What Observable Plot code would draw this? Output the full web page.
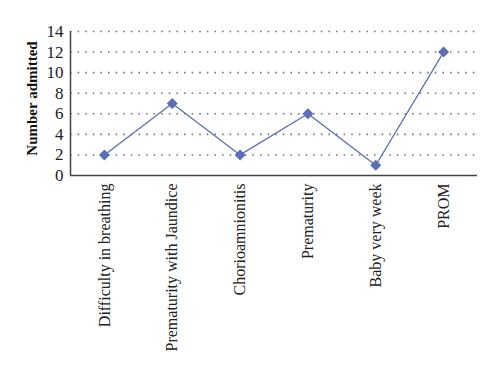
<!DOCTYPE html>
<html><head><meta charset="utf-8">
<script src="https://cdn.jsdelivr.net/npm/d3@7"></script>
<script src="https://cdn.jsdelivr.net/npm/@observablehq/plot@0.6"></script>
<style>body{margin:0;background:#fff}</style></head>
<body><div id="chart"></div>
<script>
const categories = ["Difficulty in breathing","Prematurity with Jaundice","Chorioamnionitis","Prematurity","Baby very week","PROM"];
const admitted = [2,7,2,6,1,12];
const yTicks = [0,2,4,6,8,10,12,14];
const yLabel = "Number admitted";

const data = categories.map((c,i)=>({i, c, v: admitted[i]}));
const chart = Plot.plot({
  width: 500, height: 378,
  marginLeft: 70, marginRight: 23, marginTop: 31, marginBottom: 203,
  style: {fontFamily: "'Liberation Serif', 'Times New Roman', serif", fontSize: "16px", background: "#fff", color: "#222"},
  x: {type: "linear", domain: [-0.5, categories.length - 0.5]},
  y: {domain: [0, 14]},
  marks: [
    Plot.ruleY(yTicks.filter(d => d > 0), {stroke: "#777", strokeDasharray: "1.6,6", strokeWidth: 1.6}),
    Plot.axisY({ticks: yTicks, tickSize: 0, tickPadding: 7, label: null, fontSize: 17}),
    Plot.axisX({ticks: d3.range(categories.length), tickFormat: i => categories[i], tickRotate: -90, tickSize: 0, tickPadding: 8, label: null, fontSize: 16}),
    Plot.ruleX([-0.5], {stroke: "#444", strokeWidth: 1.5}),
    Plot.ruleY([0], {stroke: "#444", strokeWidth: 1.5}),
    Plot.line(data, {x: "i", y: "v", stroke: "#5b6fb4", strokeWidth: 1.3}),
    Plot.dot(data, {x: "i", y: "v", symbol: "diamond2", r: 4, fill: "#5b6fb4", stroke: "#5b6fb4"}),
    Plot.text([yLabel], {frameAnchor: "left", textAnchor: "middle", rotate: -90, dx: -38, dy: -5, fontWeight: "bold", fontSize: 15, fill: "#111"})
  ]
});
document.getElementById("chart").append(chart);
</script>
</body></html>
